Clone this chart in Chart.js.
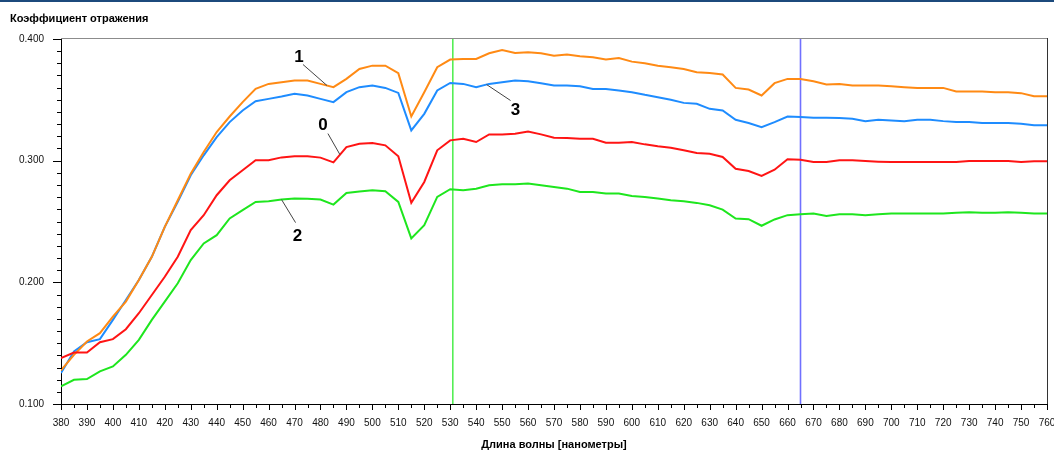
<!DOCTYPE html>
<html>

<head>
  <meta charset="utf-8">
  <title>Коэффициент отражения</title>
  <script src="https://cdn.jsdelivr.net/npm/chart.js"></script>
  <style>
    body { margin: 0; background: #fff; }
  </style>
</head>

<body>
  <canvas id="reflChart" width="1054" height="452"></canvas>

  <script>
    // wavelengths, nm
    const wavelengths = [
      380, 385, 390, 395, 400, 405, 410, 415, 420, 425,
      430, 435, 440, 445, 450, 455, 460, 465, 470, 475,
      480, 485, 490, 495, 500, 505, 510, 515, 520, 525,
      530, 535, 540, 545, 550, 555, 560, 565, 570, 575,
      580, 585, 590, 595, 600, 605, 610, 615, 620, 625,
      630, 635, 640, 645, 650, 655, 660, 665, 670, 675,
      680, 685, 690, 695, 700, 705, 710, 715, 720, 725,
      730, 735, 740, 745, 750, 755, 760
    ];

    // curve "0" (red)
    const curve0 = [
      0.1377, 0.1423, 0.1423, 0.1508, 0.1533, 0.1615, 0.1746, 0.1896, 0.2046, 0.2210,
      0.2429, 0.2552, 0.2716, 0.2839, 0.2921, 0.3003, 0.3003, 0.3027, 0.3036, 0.3036,
      0.3025, 0.2986, 0.3112, 0.3139, 0.3145, 0.3126, 0.3036, 0.2653, 0.2825, 0.3085,
      0.3167, 0.3180, 0.3153, 0.3216, 0.3216, 0.3221, 0.3240, 0.3216, 0.3188, 0.3186,
      0.3180, 0.3180, 0.3148, 0.3148, 0.3153, 0.3134, 0.3118, 0.3107, 0.3085, 0.3063,
      0.3057, 0.3030, 0.2934, 0.2915, 0.2874, 0.2926, 0.3011, 0.3008, 0.2989, 0.2989,
      0.3003, 0.3003, 0.2997, 0.2992, 0.2989, 0.2989, 0.2989, 0.2989, 0.2989, 0.2989,
      0.2997, 0.2997, 0.2997, 0.2997, 0.2989, 0.2995, 0.2995
    ];

    // curve "1" (orange)
    const curve1 = [
      0.1276, 0.1404, 0.1514, 0.1582, 0.1719, 0.1842, 0.2019, 0.2210, 0.2456, 0.2675,
      0.2893, 0.3071, 0.3235, 0.3363, 0.3481, 0.3590, 0.3631, 0.3645, 0.3658, 0.3658,
      0.3631, 0.3604, 0.3672, 0.3754, 0.3781, 0.3781, 0.3719, 0.3363, 0.3563, 0.3768,
      0.3831, 0.3836, 0.3836, 0.3883, 0.3910, 0.3885, 0.3891, 0.3883, 0.3863, 0.3872,
      0.3858, 0.3850, 0.3831, 0.3844, 0.3814, 0.3800, 0.3781, 0.3768, 0.3754, 0.3727,
      0.3721, 0.3708, 0.3598, 0.3585, 0.3536, 0.3637, 0.3672, 0.3672, 0.3653, 0.3626,
      0.3631, 0.3617, 0.3617, 0.3617, 0.3612, 0.3604, 0.3598, 0.3598, 0.3598, 0.3568,
      0.3568, 0.3568, 0.3563, 0.3563, 0.3555, 0.3530, 0.3530
    ];

    // curve "2" (green)
    const curve2 = [
      0.1145, 0.1199, 0.1205, 0.1268, 0.1309, 0.1404, 0.1527, 0.1691, 0.1842, 0.1992,
      0.2183, 0.2320, 0.2388, 0.2525, 0.2593, 0.2661, 0.2667, 0.2680, 0.2689, 0.2686,
      0.2680, 0.2639, 0.2735, 0.2746, 0.2757, 0.2749, 0.2661, 0.2361, 0.2470, 0.2702,
      0.2765, 0.2757, 0.2770, 0.2798, 0.2806, 0.2806, 0.2812, 0.2798, 0.2784, 0.2770,
      0.2743, 0.2743, 0.2730, 0.2730, 0.2710, 0.2702, 0.2689, 0.2675, 0.2667, 0.2653,
      0.2634, 0.2598, 0.2525, 0.2519, 0.2465, 0.2517, 0.2552, 0.2560, 0.2566, 0.2546,
      0.2560, 0.2560, 0.2552, 0.2560, 0.2566, 0.2566, 0.2566, 0.2566, 0.2566, 0.2571,
      0.2577, 0.2571, 0.2571, 0.2577, 0.2571, 0.2566, 0.2566
    ];

    // curve "3" (blue)
    const curve3 = [
      0.1254, 0.1432, 0.1508, 0.1533, 0.1691, 0.1855, 0.2019, 0.2210, 0.2456, 0.2661,
      0.2880, 0.3044, 0.3194, 0.3317, 0.3413, 0.3489, 0.3508, 0.3527, 0.3549, 0.3536,
      0.3508, 0.3481, 0.3563, 0.3604, 0.3617, 0.3598, 0.3557, 0.3249, 0.3385, 0.3577,
      0.3639, 0.3631, 0.3604, 0.3631, 0.3645, 0.3658, 0.3653, 0.3637, 0.3617, 0.3617,
      0.3612, 0.3590, 0.3590, 0.3577, 0.3563, 0.3541, 0.3522, 0.3500, 0.3475, 0.3467,
      0.3426, 0.3413, 0.3336, 0.3309, 0.3276, 0.3317, 0.3363, 0.3358, 0.3352, 0.3352,
      0.3350, 0.3344, 0.3325, 0.3336, 0.3331, 0.3325, 0.3336, 0.3336, 0.3325, 0.3317,
      0.3317, 0.3309, 0.3309, 0.3309, 0.3303, 0.3292, 0.3292
    ];

    // vertical marker lines (nm)
    const markerLines = [531, 665];
    const markerColors = ['#55ee55', '#7070ff'];

    // curve number labels: text, anchor on curve (nm, value)
    const calloutText = ['1', '0', '2', '3'];
    const calloutNm = [482.5, 487.5, 465, 544];
    const calloutValue = [0.3618, 0.3050, 0.2680, 0.3626];

    const chartTitle = 'Коэффициент отражения';
    const xTitle = 'Длина волны [нанометры]';

    function toPoints(values) {
      return values.map((v, i) => ({ x: wavelengths[i], y: v }));
    }

    // label offsets from anchor, px (style only)
    const calloutOffsets = [
      { lx: -28, ly: -28, sx: -24, sy: -21 },
      { lx: -17, ly: -29, sx: -12, sy: -21 },
      { lx: 16, ly: 37, sx: 14, sy: 23 },
      { lx: 29, ly: 26, sx: 24, sy: 16 },
    ];

    const decorPlugin = {
      id: 'decor',
      beforeDraw(chart) {
        const ctx = chart.ctx;
        ctx.save();
        ctx.fillStyle = '#fff';
        ctx.fillRect(0, 0, chart.width, chart.height);
        ctx.restore();
      },
      beforeDatasetsDraw(chart) {
        const { ctx, chartArea, scales } = chart;
        ctx.save();
        ctx.lineWidth = 1.6;
        markerLines.forEach((nm, i) => {
          const px = scales.x.getPixelForValue(nm);
          ctx.strokeStyle = markerColors[i];
          ctx.beginPath();
          ctx.moveTo(px, chartArea.top);
          ctx.lineTo(px, chartArea.bottom);
          ctx.stroke();
        });
        ctx.restore();
      },
      afterDraw(chart) {
        const { ctx, chartArea, scales } = chart;
        const x = scales.x, y = scales.y;
        ctx.save();

        // window strip at the top
        ctx.fillStyle = '#1c4a7c';
        ctx.fillRect(0, 0, chart.width, 2);

        // frame: top and right
        ctx.lineWidth = 1;
        ctx.strokeStyle = '#8c8c8c';
        ctx.beginPath();
        ctx.moveTo(chartArea.left, Math.round(chartArea.top) - 0.5);
        ctx.lineTo(chartArea.right, Math.round(chartArea.top) - 0.5);
        ctx.stroke();
        ctx.strokeStyle = '#333';
        ctx.beginPath();
        ctx.moveTo(Math.round(chartArea.right) + 0.5, chartArea.top - 1);
        ctx.lineTo(Math.round(chartArea.right) + 0.5, chartArea.bottom);
        ctx.stroke();

        // tick marks
        ctx.strokeStyle = '#000';
        x.ticks.forEach(t => {
          const px = Math.round(x.getPixelForValue(t.value)) + 0.5;
          const len = Math.round(t.value) % 10 === 0 ? 6 : 4;
          ctx.beginPath();
          ctx.moveTo(px, chartArea.bottom);
          ctx.lineTo(px, chartArea.bottom + len);
          ctx.stroke();
        });
        y.ticks.forEach(t => {
          const py = Math.round(y.getPixelForValue(t.value)) + 0.5;
          const major = Math.round(t.value * 100) % 10 === 0;
          ctx.beginPath();
          ctx.moveTo(chartArea.left - (major ? 8 : 4), py);
          ctx.lineTo(chartArea.left + 1, py);
          ctx.stroke();
        });

        // chart title
        ctx.fillStyle = '#000';
        ctx.font = 'bold 11px "Liberation Sans", Arial, sans-serif';
        ctx.textBaseline = 'middle';
        ctx.textAlign = 'left';
        ctx.fillText(chartTitle, 10, 19);

        // curve callouts
        ctx.font = 'bold 17px "Liberation Sans", Arial, sans-serif';
        ctx.textAlign = 'center';
        calloutText.forEach((txt, i) => {
          const ax = x.getPixelForValue(calloutNm[i]);
          const ay = y.getPixelForValue(calloutValue[i]);
          const o = calloutOffsets[i];
          ctx.strokeStyle = '#444';
          ctx.lineWidth = 1;
          ctx.beginPath();
          ctx.moveTo(ax + o.sx, ay + o.sy);
          ctx.lineTo(ax, ay);
          ctx.stroke();
          ctx.fillStyle = '#000';
          ctx.fillText(txt, ax + o.lx, ay + o.ly);
        });
        ctx.restore();
      }
    };

    const reflCtx = document.getElementById('reflChart').getContext('2d');
    const reflChart = new Chart(reflCtx, {
      type: 'line',
      data: {
        datasets: [
          {
            label: '0',
            data: toPoints(curve0),
            borderColor: '#ff1414',
          },
          {
            label: '1',
            data: toPoints(curve1),
            borderColor: '#ff8a14',
          },
          {
            label: '2',
            data: toPoints(curve2),
            borderColor: '#1ee61e',
          },
          {
            label: '3',
            data: toPoints(curve3),
            borderColor: '#1e8cff',
          },
        ],
      },
      options: {
        responsive: false,
        animation: false,
        layout: {
          padding: { left: 0, right: 7, top: 39, bottom: 0 }
        },
        elements: {
          line: { borderWidth: 2, tension: 0, fill: false },
          point: { radius: 0, hoverRadius: 0 }
        },
        plugins: {
          legend: { display: false },
          tooltip: { enabled: false },
        },
        scales: {
          x: {
            type: 'linear',
            min: 380,
            max: 760,
            afterFit(scale) {
              scale.height = 48;
              scale.paddingLeft = 0;
              scale.paddingRight = 0;
            },
            grid: { display: false, drawTicks: true, tickLength: 6 },
            border: { display: true, color: '#000', width: 1 },
            ticks: {
              stepSize: 5,
              autoSkip: false,
              maxRotation: 0,
              padding: 7,
              color: '#111',
              font: { family: '"Liberation Sans", Arial', size: 10 },
              callback: function (value) {
                return Math.round(value) % 10 === 0 ? String(Math.round(value)) : '';
              }
            },
            title: {
              display: true,
              text: xTitle,
              color: '#000',
              padding: { top: 0, bottom: 0 },
              font: { family: '"Liberation Sans", Arial', size: 11, weight: 'bold' }
            }
          },
          y: {
            min: 0.1,
            max: 0.4,
            afterFit(scale) { scale.width = 61; },
            grid: { display: false, drawTicks: true, tickLength: 8 },
            border: { display: true, color: '#000', width: 1 },
            ticks: {
              stepSize: 0.01,
              autoSkip: false,
              padding: 9,
              color: '#111',
              font: { family: '"Liberation Sans", Arial', size: 10 },
              callback: function (value) {
                return Math.round(value * 100) % 10 === 0 ? value.toFixed(3) : '';
              }
            }
          }
        }
      },
      plugins: [decorPlugin]
    });
  </script>
</body>

</html>
